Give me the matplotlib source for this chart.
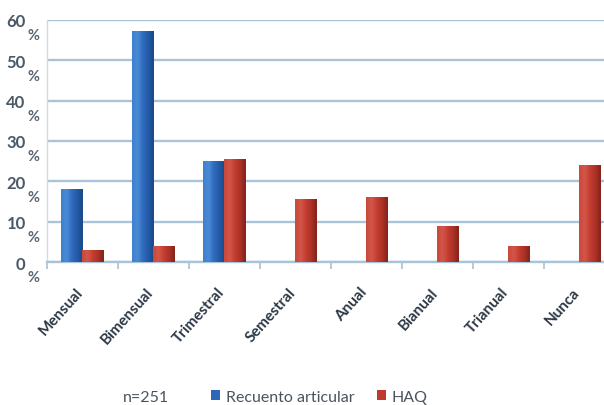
import numpy as np
import matplotlib
matplotlib.use("Agg")
import matplotlib.pyplot as plt
import matplotlib.transforms as mtransforms
from matplotlib.colors import LinearSegmentedColormap
from matplotlib.patches import Patch

categories = ["Mensual", "Bimensual", "Trimestral", "Semestral",
              "Anual", "Bianual", "Trianual", "Nunca"]
recuento = [18, 57.3, 25, 0, 0, 0, 0, 0]
haq = [3, 4, 25.5, 15.5, 16, 9, 4, 24]
yticks = [0, 10, 20, 30, 40, 50, 60]
series_names = ["Recuento articular", "HAQ"]
sample_note = "n=251"

plt.rcParams["font.family"] = ["Lato", "DejaVu Sans"]

W, H = 604, 406
fig = plt.figure(figsize=(W / 100, H / 100), dpi=100)
fig.patch.set_facecolor("white")

# axes reach slightly past the right edge of the figure
ax = fig.add_axes([46.5 / W, 143 / H, 568 / W, 242 / H])
ax.set_facecolor("white")

x = np.arange(len(categories))
bw = 0.3
blue, red = "#2E67B8", "#BE3A2E"
b1 = ax.bar(x - bw / 2, recuento, bw, color=blue, zorder=3)
b2 = ax.bar(x + bw / 2, haq, bw, color=red, zorder=3)

# cylinder-like shading across each bar
cm_blue = LinearSegmentedColormap.from_list(
    "b", ["#3F7FCC", "#4A8BD6", "#2F6BBE", "#245AA6", "#1B4887"])
cm_red = LinearSegmentedColormap.from_list(
    "r", ["#C9483A", "#D4564A", "#C23D30", "#AC3228", "#832219"])
grad = np.linspace(0, 1, 64).reshape(1, -1)
for bars, cm in ((b1, cm_blue), (b2, cm_red)):
    for r in bars:
        h = r.get_height()
        if h <= 0:
            r.set_visible(False)
            continue
        x0, w = r.get_x(), r.get_width()
        im = ax.imshow(grad, extent=[x0, x0 + w, 0, h], aspect="auto",
                       cmap=cm, zorder=3.5, interpolation="bicubic")
        im.set_clip_path(r)

ax.set_xlim(-0.5, len(categories) - 0.5)
ax.set_ylim(0, 60)

grid_c = "#A9C3D8"
label_c = "#4B5866"
ax.set_yticks(yticks)
ax.set_yticklabels([str(v) for v in yticks])
ax.yaxis.grid(True, color=grid_c, lw=1.7, zorder=0)
ax.set_axisbelow(True)
ax.tick_params(axis="y", length=0, pad=15, labelsize=12, labelcolor=label_c)
for lbl in ax.get_yticklabels():
    lbl.set_fontweight("bold")
for v in yticks:
    ax.annotate("%", xy=(0, v), xycoords=("axes fraction", "data"),
                xytext=(-5, -6), textcoords="offset points",
                ha="right", va="top", fontsize=10.5, fontweight="bold",
                color="#5B6674")

ax.set_xticks(x)
ax.set_xticklabels(categories, rotation=48, ha="right",
                   rotation_mode="anchor", fontsize=11,
                   color="#2C3845", fontweight="bold")
ax.tick_params(axis="x", length=0, pad=17)
# nudge the slanted category labels a little to the left
shift = mtransforms.ScaledTranslation(-7 / 100, 1 / 100, fig.dpi_scale_trans)
for lbl in ax.get_xticklabels():
    lbl.set_transform(lbl.get_transform() + shift)
ax.set_xticks(np.arange(-0.5, len(categories), 1), minor=True)
ax.tick_params(axis="x", which="minor", length=5, color=grid_c, width=1.2)

for s in ("top", "right"):
    ax.spines[s].set_visible(False)
ax.spines["bottom"].set_color(grid_c)
ax.spines["bottom"].set_linewidth(1.7)
ax.spines["left"].set_color("#C9DCEA")
ax.spines["left"].set_linewidth(1.0)

handles = [Patch(facecolor=blue), Patch(facecolor=red)]
fig.legend(handles, series_names, loc="center left", ncol=2,
           bbox_to_anchor=(197 / W, 8 / H), frameon=False,
           handlelength=0.55, handleheight=0.6, handletextpad=0.35,
           columnspacing=1.4, fontsize=11.5, labelcolor="#4A5460")
fig.text(123 / W, 8 / H, sample_note, ha="left", va="center",
         fontsize=11.5, color="#4A5460")

fig.savefig("out.png", dpi=100, facecolor=fig.get_facecolor())
